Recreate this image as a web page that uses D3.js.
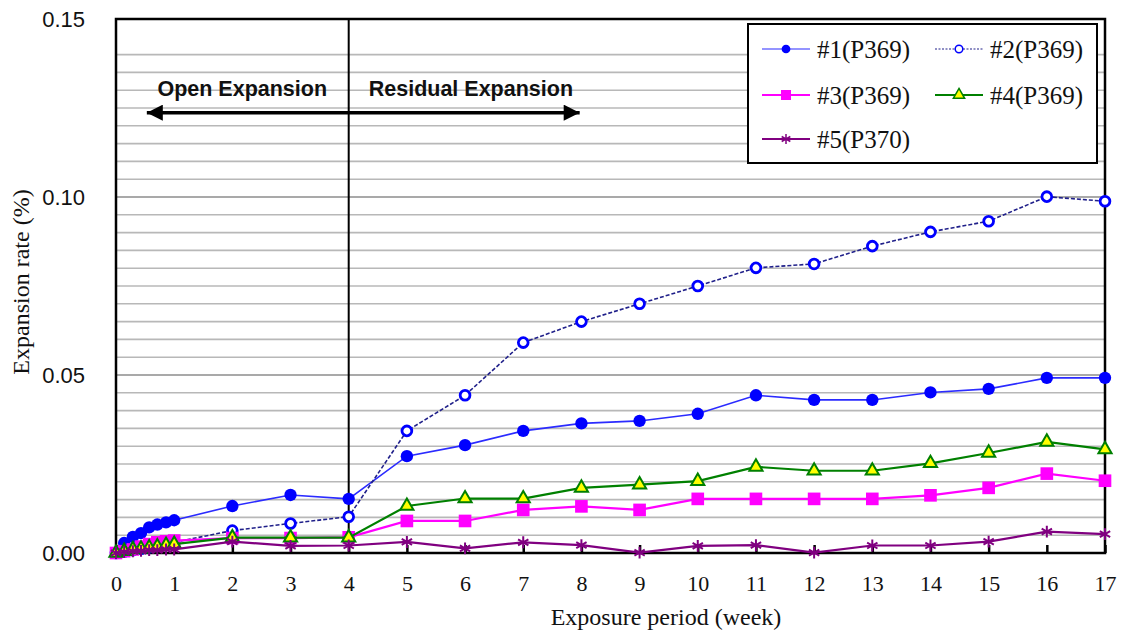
<!DOCTYPE html>
<html>
<head>
<meta charset="utf-8">
<script src="https://cdn.jsdelivr.net/npm/d3@7"></script>
<style>
body { margin: 0; background: #fff; }
</style>
</head>
<body>
<script>
// exposure time in weeks (daily readings during the first week)
var weeks = [0, 0.14, 0.29, 0.43, 0.57, 0.71, 0.86, 1, 2, 3, 4, 5, 6, 7, 8, 9, 10, 11, 12, 13, 14, 15, 16, 17];

// expansion rate (%)
var s1 = [0, 0.0028, 0.0045, 0.0056, 0.0072, 0.0080, 0.0086, 0.0092, 0.0132, 0.0163, 0.0152, 0.0272, 0.0303, 0.0343, 0.0364, 0.0371, 0.0391, 0.0443, 0.0430, 0.0430, 0.0451, 0.0461, 0.0492, 0.0492];
var s2 = [0, 0.0004, 0.0008, 0.0012, 0.0016, 0.0020, 0.0025, 0.0030, 0.0063, 0.0083, 0.0102, 0.0343, 0.0443, 0.0591, 0.0650, 0.0700, 0.0750, 0.0801, 0.0812, 0.0862, 0.0902, 0.0932, 0.1001, 0.0988];
var s3 = [0, 0.0005, 0.0010, 0.0018, 0.0025, 0.0030, 0.0033, 0.0035, 0.0042, 0.0042, 0.0044, 0.0090, 0.0090, 0.0121, 0.0131, 0.0121, 0.0152, 0.0152, 0.0152, 0.0152, 0.0162, 0.0183, 0.0223, 0.0203];
var s4 = [0, 0.0005, 0.0010, 0.0012, 0.0015, 0.0018, 0.0022, 0.0025, 0.0043, 0.0043, 0.0043, 0.0132, 0.0153, 0.0153, 0.0183, 0.0192, 0.0202, 0.0242, 0.0231, 0.0231, 0.0252, 0.0281, 0.0312, 0.0291];
var s5 = [0, 0.0003, 0.0005, 0.0006, 0.0008, 0.0008, 0.0010, 0.0010, 0.0032, 0.0020, 0.0021, 0.0031, 0.0013, 0.0030, 0.0022, 0.0001, 0.0020, 0.0022, 0.0001, 0.0021, 0.0021, 0.0032, 0.0060, 0.0053];

var names = ["#1(P369)", "#2(P369)", "#3(P369)", "#4(P369)", "#5(P370)"];

var xTicks = [0, 1, 2, 3, 4, 5, 6, 7, 8, 9, 10, 11, 12, 13, 14, 15, 16, 17];
var yTicks = [0, 0.05, 0.10, 0.15];

var W = 1126, H = 633;
var svg = d3.select("body").append("svg")
    .attr("width", W)
    .attr("height", H);

var x = d3.scaleLinear().domain([0, 17]).range([116, 1105]);
var y = d3.scaleLinear().domain([0, 0.15]).range([553, 19]);

var serif = "'Liberation Serif', 'DejaVu Serif', serif";
var sans = "'Liberation Sans', Arial, sans-serif";

// horizontal grid, every 0.005 (the one just under the top is absent in the original)
var grid = d3.range(1, 29).map(function(i) { return i * 0.005; });
svg.append("g").selectAll("line")
    .data(grid)
    .enter()
    .append("line")
    .attr("x1", x(0)).attr("x2", x(17))
    .attr("y1", function(d) { return y(d); })
    .attr("y2", function(d) { return y(d); })
    .attr("stroke", function(d, i) { return (i + 1) % 10 == 0 ? "#8c8c8c" : "#b8b8b8"; })
    .attr("stroke-width", 1.6);

// boundary between open and residual expansion
svg.append("line")
    .attr("x1", x(4)).attr("x2", x(4))
    .attr("y1", y(0.15)).attr("y2", y(0))
    .attr("stroke", "#000")
    .attr("stroke-width", 2);

// plot frame
svg.append("rect")
    .attr("x", x(0)).attr("y", y(0.15))
    .attr("width", x(17) - x(0))
    .attr("height", y(0) - y(0.15))
    .attr("fill", "none")
    .attr("stroke", "#000")
    .attr("stroke-width", 2.5);

// axes
var xAxis = svg.append("g")
    .attr("transform", "translate(0," + y(0) + ")")
    .call(d3.axisBottom(x).tickValues(xTicks).tickSize(-8).tickSizeOuter(0).tickPadding(22));
xAxis.select(".domain").remove();
xAxis.selectAll("line").attr("stroke", "#000").attr("stroke-width", 2.5);
xAxis.selectAll("text").attr("font-family", serif).attr("font-size", "22px").attr("fill", "#111");

var yAxis = svg.append("g")
    .attr("transform", "translate(" + x(0) + ",0)")
    .call(d3.axisLeft(y).tickValues(yTicks).tickSize(0).tickPadding(31).tickFormat(d3.format(".2f")));
yAxis.select(".domain").remove();
yAxis.selectAll("text").attr("font-family", sans).attr("font-size", "22px").attr("fill", "#111");

svg.append("text")
    .attr("x", 666).attr("y", 625)
    .attr("text-anchor", "middle")
    .attr("font-family", serif).attr("font-size", "24px").attr("fill", "#111")
    .text("Exposure period (week)");

svg.append("text")
    .attr("transform", "translate(29,282) rotate(-90)")
    .attr("text-anchor", "middle")
    .attr("font-family", serif).attr("font-size", "24px").attr("fill", "#111")
    .text("Expansion rate (%)");

// series
var series = [
    {vals: s1, line: "#2b2bff", dash: null, width: 1.6, sym: d3.symbolCircle, size: 120, fill: "#0000ff", stroke: "none", sw: 0},
    {vals: s2, line: "#20208a", dash: "4,2", width: 1.6, sym: d3.symbolCircle, size: 75, fill: "#fff", stroke: "#0000ff", sw: 2.8},
    {vals: s3, line: "#ff00ff", dash: null, width: 2.2, sym: d3.symbolSquare, size: 160, fill: "#ff00ff", stroke: "none", sw: 0},
    {vals: s4, line: "#008000", dash: null, width: 2.2, sym: d3.symbolTriangle, size: 75, fill: "#ffff00", stroke: "#008000", sw: 2},
    {vals: s5, line: "#800080", dash: null, width: 2.2, sym: d3.symbolAsterisk, size: 100, fill: "none", stroke: "#800080", sw: 2}
];

var line = d3.line()
    .x(function(d) { return x(d[0]); })
    .y(function(d) { return y(d[1]); });

series.forEach(function(s) {
    var pts = weeks.map(function(w, i) { return [w, s.vals[i]]; });
    svg.append("path")
        .attr("d", line(pts))
        .attr("fill", "none")
        .attr("stroke", s.line)
        .attr("stroke-width", s.width)
        .attr("stroke-dasharray", s.dash);
    svg.append("g").selectAll("path")
        .data(pts)
        .enter()
        .append("path")
        .attr("d", d3.symbol().type(s.sym).size(s.size))
        .attr("transform", function(d) { return "translate(" + x(d[0]) + "," + y(d[1]) + ")"; })
        .attr("fill", s.fill)
        .attr("stroke", s.stroke)
        .attr("stroke-width", s.sw);
});

// arrow and phase labels
var defs = svg.append("defs");
defs.append("marker")
    .attr("id", "head")
    .attr("viewBox", "0 0 10 10")
    .attr("refX", 10).attr("refY", 5)
    .attr("markerWidth", 20).attr("markerHeight", 16)
    .attr("markerUnits", "userSpaceOnUse")
    .attr("orient", "auto-start-reverse")
    .append("path")
    .attr("d", "M0,0L10,5L0,10Z")
    .attr("fill", "#000");

svg.append("line")
    .attr("x1", x(0.53)).attr("x2", x(7.97))
    .attr("y1", y(0.1237)).attr("y2", y(0.1237))
    .attr("stroke", "#000")
    .attr("stroke-width", 3.5)
    .attr("marker-start", "url(#head)")
    .attr("marker-end", "url(#head)");

svg.append("text")
    .attr("x", x(2.17)).attr("y", y(0.1304))
    .attr("dy", "0.35em")
    .attr("text-anchor", "middle")
    .attr("font-family", sans).attr("font-size", "21.5px").attr("font-weight", "bold").attr("fill", "#111")
    .text("Open Expansion");

svg.append("text")
    .attr("x", x(6.1)).attr("y", y(0.1304))
    .attr("dy", "0.35em")
    .attr("text-anchor", "middle")
    .attr("font-family", sans).attr("font-size", "21.5px").attr("font-weight", "bold").attr("fill", "#111")
    .text("Residual Expansion");

// legend
var lg = svg.append("g");
lg.append("rect")
    .attr("x", 748).attr("y", 24)
    .attr("width", 349).attr("height", 139)
    .attr("fill", "#fff")
    .attr("stroke", "#000")
    .attr("stroke-width", 2);

var legSizes = [60, 45, 100, 55, 70];
var legPos = [[762, 49], [935, 49], [762, 95], [935, 95], [762, 139]];
series.forEach(function(s, i) {
    var p = legPos[i];
    var g = lg.append("g").attr("transform", "translate(" + p[0] + "," + p[1] + ")");
    g.append("line")
        .attr("x1", 0).attr("x2", 48)
        .attr("stroke", s.line)
        .attr("stroke-width", i < 2 ? 1.2 : 1.8)
        .attr("stroke-dasharray", i == 1 ? "2,1.5" : null);
    g.append("path")
        .attr("d", d3.symbol().type(s.sym).size(legSizes[i]))
        .attr("transform", "translate(24,0)")
        .attr("fill", s.fill)
        .attr("stroke", s.stroke)
        .attr("stroke-width", s.sw ? 1.5 : 0);
    g.append("text")
        .attr("x", 55)
        .attr("dy", "0.35em")
        .attr("font-family", serif).attr("font-size", "25px").attr("fill", "#111")
        .text(names[i]);
});
</script>
</body>
</html>
